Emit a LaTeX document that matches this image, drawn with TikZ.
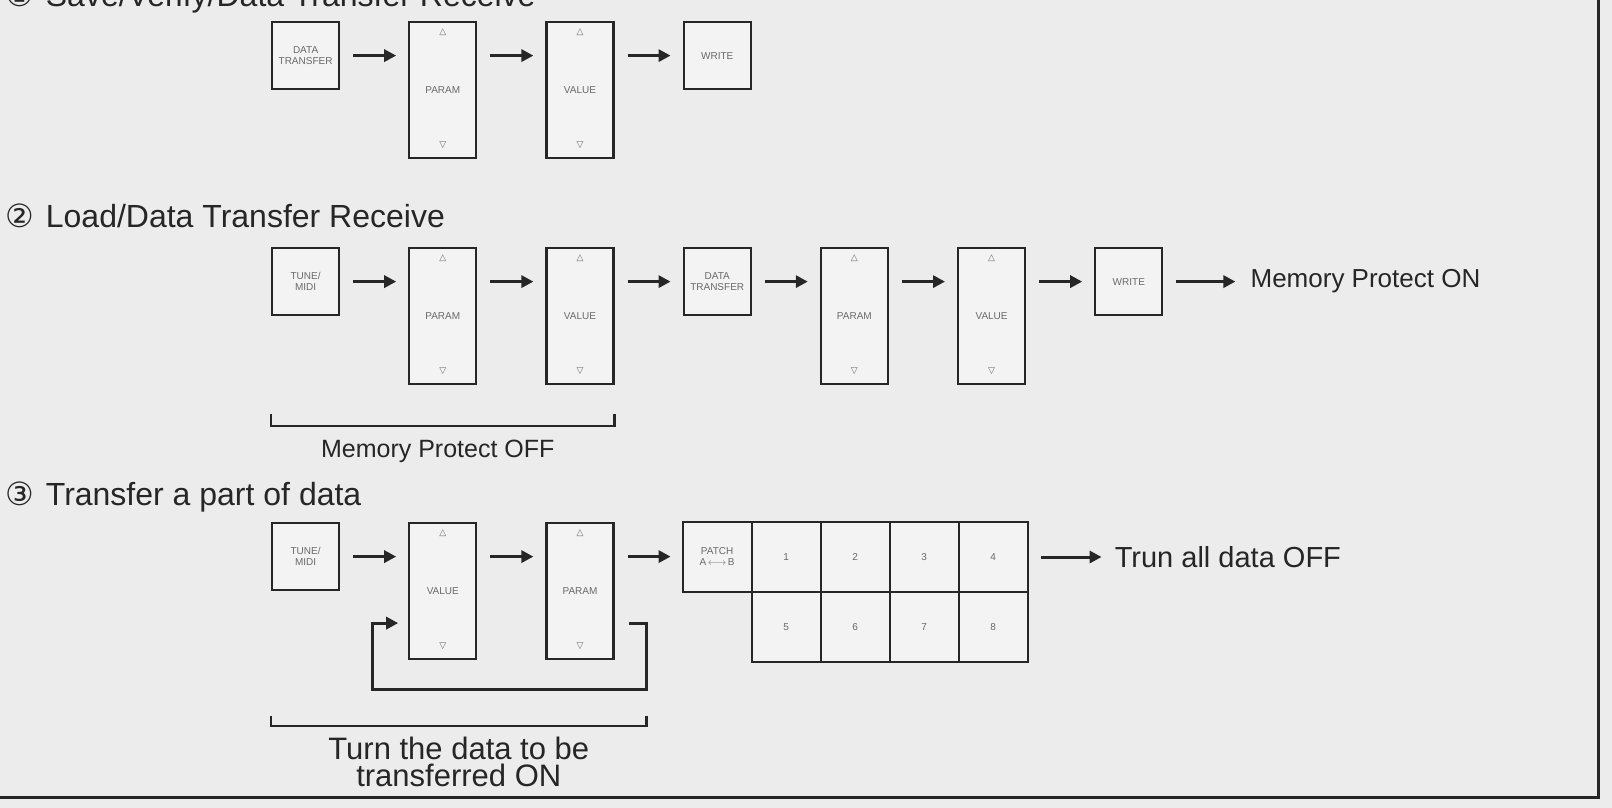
\documentclass[tikz,border=0pt]{standalone}
\usepackage{fontspec}
\setmainfont{Liberation Sans}
\newfontfamily\symfont{DejaVu Sans}
\usetikzlibrary{arrows.meta,positioning,calc}
\definecolor{scanpaper}{RGB}{236,236,236}
\definecolor{boxpaper}{RGB}{243,243,243}
\definecolor{scanink}{RGB}{38,38,38}
\definecolor{faintink}{RGB}{105,105,105}

\begin{document}
\begin{tikzpicture}[x=1pt, y=-1pt,
  font=\fontsize{10}{11}\selectfont,
  box/.style={draw=scanink, fill=boxpaper, line width=2.2pt, align=center,
              text=faintink, minimum width=67pt, minimum height=67pt, inner sep=1pt},
  updown/.style={font=\symfont\fontsize{9}{9}\selectfont, text=faintink, inner sep=0pt},
  tall/.style={box, minimum height=136pt,
               label={[updown, anchor=north, yshift=-8pt]north:△},
               label={[updown, anchor=south, yshift=10pt]south:▽}},
  cell/.style={box, outer sep=0pt, minimum width=69pt, minimum height=70pt},
  arrow/.style={-{Triangle[length=12pt,width=12pt]}, line width=3pt, draw=scanink,
                shorten <=13pt, shorten >=12pt},
  head/.style={anchor=base west, inner sep=0pt, text=scanink,
               font=\fontsize{32}{36}\selectfont},
  big/.style={inner sep=0pt, text=scanink, align=center,
              font=\fontsize{26}{26}\selectfont},
  bracket/.style={draw=scanink, line width=2.4pt}
]
\useasboundingbox (0,0) rectangle (1612,808);
\clip (0,0) rectangle (1612,808);
\fill[scanpaper] (0,0) rectangle (1612,808);

% (1)
\node[head] (head1) at (5,7) {{\symfont ①}\hspace{12pt}Save/Verify/Data Transfer Receive};
\node[box, anchor=north west] (xfer1) at (271,21) {DATA\\TRANSFER};
\node[tall, right=68pt of xfer1.north east, anchor=north west] (param1) {PARAM};
\node[tall, right=68pt of param1.north east, anchor=north west] (value1) {VALUE};
\node[box, right=68pt of value1.north east, anchor=north west] (write1) {WRITE};
\draw[arrow] (xfer1.east) -- (xfer1.east -| param1.west);
\draw[arrow] (xfer1.east -| param1.east) -- (xfer1.east -| value1.west);
\draw[arrow] (xfer1.east -| value1.east) -- (write1.west);

% (2)
\node[head] (head2) at (5,227) {{\symfont ②}\hspace{12pt}Load/Data Transfer Receive};
\node[box, anchor=north west] (tune2) at (271,247) {TUNE/\\MIDI};
\node[tall, right=68pt of tune2.north east, anchor=north west] (param2) {PARAM};
\node[tall, right=68pt of param2.north east, anchor=north west] (value2) {VALUE};
\node[box, right=68pt of value2.north east, anchor=north west] (xfer2) {DATA\\TRANSFER};
\node[tall, right=68pt of xfer2.north east, anchor=north west] (param2b) {PARAM};
\node[tall, right=68pt of param2b.north east, anchor=north west] (value2b) {VALUE};
\node[box, right=68pt of value2b.north east, anchor=north west] (write2) {WRITE};
\node[big, right=87pt of write2] (protecton) {Memory Protect ON};
\draw[arrow] (tune2.east) -- (tune2.east -| param2.west);
\draw[arrow] (tune2.east -| param2.east) -- (tune2.east -| value2.west);
\draw[arrow] (tune2.east -| value2.east) -- (xfer2.west);
\draw[arrow] (xfer2.east) -- (xfer2.east -| param2b.west);
\draw[arrow] (xfer2.east -| param2b.east) -- (xfer2.east -| value2b.west);
\draw[arrow] (xfer2.east -| value2b.east) -- (write2.west);
\draw[arrow, shorten >=15pt] (write2.east) -- (protecton.west);
\draw[bracket] ($(tune2.west |- value2.south)+(0,29)$) -- ++(0,12)
  -| node[pos=.25, below=13pt, xshift=-5pt, big, font=\fontsize{25}{25}\selectfont] (protectoff) {Memory Protect OFF}
  ($(value2.south east)+(0,29)$);

% (3)
\node[head] (head3) at (5,505) {{\symfont ③}\hspace{12pt}Transfer a part of data};
\node[box, anchor=north west] (tune3) at (271,522) {TUNE/\\MIDI};
\node[tall, right=68pt of tune3.north east, anchor=north west] (value3) {VALUE};
\node[tall, right=68pt of value3.north east, anchor=north west] (param3) {PARAM};
\node[cell, right=68pt of param3.north east, anchor=north west] (patch) {PATCH\\A\,$\longleftrightarrow$\,B};
\node[cell, right=0pt of patch] (c1) {1};
\node[cell, right=0pt of c1] (c2) {2};
\node[cell, right=0pt of c2] (c3) {3};
\node[cell, right=0pt of c3] (c4) {4};
\node[cell, below=0pt of c1] (c5) {5};
\node[cell, right=0pt of c5] (c6) {6};
\node[cell, right=0pt of c6] (c7) {7};
\node[cell, right=0pt of c7] (c8) {8};
\node[big, right=87pt of c4, font=\fontsize{29}{29}\selectfont] (alloff) {Trun all data OFF};
\draw[arrow] (tune3.east) -- (tune3.east -| value3.west);
\draw[arrow] (tune3.east -| value3.east) -- (tune3.east -| param3.west);
\draw[arrow] (tune3.east -| param3.east) -- (tune3.east -| patch.west);
\draw[arrow, shorten >=13pt] (c4.east) -- (alloff.west);
\draw[arrow, shorten <=14pt, shorten >=10pt] ([yshift=-32pt]param3.east) -- ++(32,0) -- ++(0,66)
  -| ($(value3.west)+(-36,32)$) -- ([yshift=-32pt]value3.west);
\draw[bracket] ($(tune3.west |- value3.south)+(0,56)$) -- ++(0,10)
  -| node[pos=.25, below=10pt, big, font=\fontsize{31}{27}\selectfont] (transferon) {Turn the data to be\\transferred ON}
  ($(param3.south east)+(32,56)$);

\draw[line width=3pt, draw=scanink] (0,797) -- (1598,797) -- (1598,0);
\end{tikzpicture}
\end{document}
